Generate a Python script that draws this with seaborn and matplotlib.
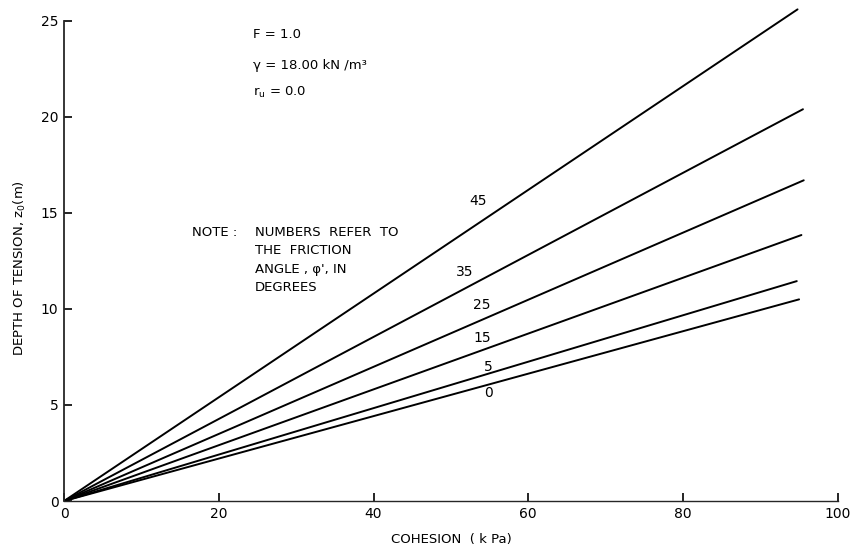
import pandas as pd
import seaborn as sns
import matplotlib.pyplot as plt


# friction angles and end points of each line
phi = [0, 5, 15, 25, 35, 45]
c_end = [95.0, 94.7, 95.3, 95.6, 95.5, 94.8]
z_end = [10.5, 11.45, 13.85, 16.7, 20.4, 25.6]

# where the angle numbers sit
lab_x = [54.8, 54.8, 54.0, 54.0, 51.8, 53.5]
lab_y = [5.6, 7.0, 8.5, 10.2, 11.9, 15.6]

xticks = [0, 20, 40, 60, 80, 100]
yticks = [0, 5, 10, 15, 20, 25]

rows = []
for p, ce, ze in zip(phi, c_end, z_end):
    rows.append({"phi": p, "c": 0.0, "z": 0.0})
    rows.append({"phi": p, "c": ce, "z": ze})
df = pd.DataFrame(rows)

sns.set_style("ticks")
plt.rcParams["font.family"] = ["DejaVu Sans"]
plt.rcParams["text.color"] = "black"
plt.rcParams["axes.labelcolor"] = "black"
plt.rcParams["xtick.color"] = "black"
plt.rcParams["ytick.color"] = "black"

fig = plt.figure(figsize=(8.54, 5.53), dpi=100)
ax = fig.add_axes([0.075, 0.094, 0.906, 0.896])

sns.lineplot(data=df, x="c", y="z", units="phi", estimator=None,
             color="black", lw=1.4, ax=ax)

for p, lx, ly in zip(phi, lab_x, lab_y):
    ax.text(lx, ly, str(p), fontsize=10, ha="center", va="center")

ax.set_xlim(0, 100)
ax.set_ylim(0, 25.8)
ax.set_xticks(xticks)
ax.set_yticks(yticks)
ax.tick_params(direction="in", length=6, width=1.2, labelsize=10, pad=4)
sns.despine(ax=ax)
ax.spines["left"].set_bounds(0, 25)
ax.spines["left"].set_linewidth(1.3)
ax.spines["bottom"].set_linewidth(1.0)

ax.set_xlabel("COHESION  ( k Pa)", fontsize=9.5, labelpad=9)
ax.set_ylabel("DEPTH OF TENSION, z$_\\mathregular{0}$(m)", fontsize=9.5)
ax.yaxis.set_label_coords(-0.047, 0.47)

ax.text(24.4, 24.3, "F = 1.0", fontsize=9.5, va="center")
ax.text(24.4, 22.7, "γ = 18.00 kN /m³", fontsize=9.5, va="center")
ax.text(24.4, 21.3, "r$_\\mathregular{u}$ = 0.0", fontsize=9.5, va="center")

ax.text(16.5, 14.0, "NOTE :", fontsize=9.5, va="center")
ax.text(24.7, 14.0, "NUMBERS  REFER  TO", fontsize=9.5, va="center")
ax.text(24.7, 13.05, "THE  FRICTION", fontsize=9.5, va="center")
ax.text(24.7, 12.05, "ANGLE , φ', IN", fontsize=9.5, va="center")
ax.text(24.7, 11.1, "DEGREES", fontsize=9.5, va="center")

fig.savefig("out.png", dpi=100)
